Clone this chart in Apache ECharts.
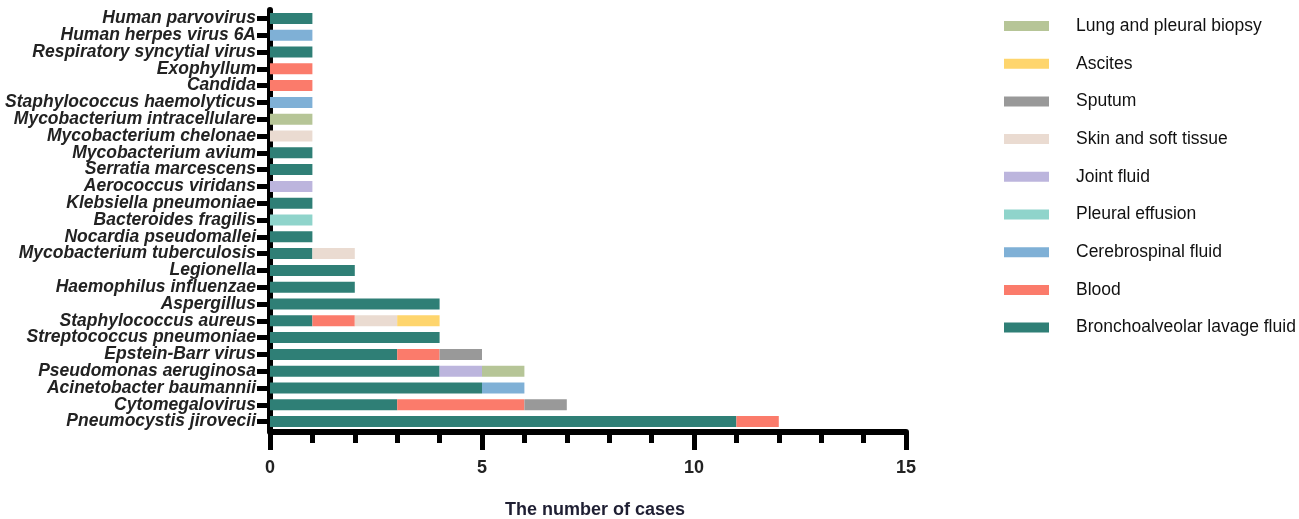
<!DOCTYPE html>
<html>
<head>
<meta charset="utf-8">
<script src="https://cdn.jsdelivr.net/npm/echarts@6/dist/echarts.min.js"></script>
<style>
  html, body { margin: 0; padding: 0; background: #fff; }
  #chart { width: 1299px; height: 519px; }
</style>
</head>
<body>
<div id="chart"></div>
<script>
// categories, bottom to top
const pathogens = [
  "Pneumocystis jirovecii", "Cytomegalovirus", "Acinetobacter baumannii",
  "Pseudomonas aeruginosa", "Epstein-Barr virus", "Streptococcus pneumoniae",
  "Staphylococcus aureus", "Aspergillus", "Haemophilus influenzae", "Legionella",
  "Mycobacterium tuberculosis", "Nocardia pseudomallei", "Bacteroides fragilis",
  "Klebsiella pneumoniae", "Aerococcus viridans", "Serratia marcescens",
  "Mycobacterium avium", "Mycobacterium chelonae", "Mycobacterium intracellulare",
  "Staphylococcus haemolyticus", "Candida", "Exophyllum",
  "Respiratory syncytial virus", "Human herpes virus 6A", "Human parvovirus"
];

const balf     = [11, 3, 5, 4, 3, 4, 1, 4, 2, 2, 1, 1, 0, 1, 0, 1, 1, 0, 0, 0, 0, 0, 1, 0, 1];
const blood    = [1, 3, 0, 0, 1, 0, 1, 0, 0, 0, 0, 0, 0, 0, 0, 0, 0, 0, 0, 0, 1, 1, 0, 0, 0];
const csf      = [0, 0, 1, 0, 0, 0, 0, 0, 0, 0, 0, 0, 0, 0, 0, 0, 0, 0, 0, 1, 0, 0, 0, 1, 0];
const pleural  = [0, 0, 0, 0, 0, 0, 0, 0, 0, 0, 0, 0, 1, 0, 0, 0, 0, 0, 0, 0, 0, 0, 0, 0, 0];
const joint    = [0, 0, 0, 1, 0, 0, 0, 0, 0, 0, 0, 0, 0, 0, 1, 0, 0, 0, 0, 0, 0, 0, 0, 0, 0];
const skin     = [0, 0, 0, 0, 0, 0, 1, 0, 0, 0, 1, 0, 0, 0, 0, 0, 0, 1, 0, 0, 0, 0, 0, 0, 0];
const sputum   = [0, 1, 0, 0, 1, 0, 0, 0, 0, 0, 0, 0, 0, 0, 0, 0, 0, 0, 0, 0, 0, 0, 0, 0, 0];
const ascites  = [0, 0, 0, 0, 0, 0, 1, 0, 0, 0, 0, 0, 0, 0, 0, 0, 0, 0, 0, 0, 0, 0, 0, 0, 0];
const lung     = [0, 0, 0, 1, 0, 0, 0, 0, 0, 0, 0, 0, 0, 0, 0, 0, 0, 0, 1, 0, 0, 0, 0, 0, 0];

const specimens = [
  { name: "Bronchoalveolar lavage fluid", data: balf, color: "#2f7f76" },
  { name: "Blood", data: blood, color: "#fb7b6b" },
  { name: "Cerebrospinal fluid", data: csf, color: "#7fb0d6" },
  { name: "Pleural effusion", data: pleural, color: "#8fd4cb" },
  { name: "Joint fluid", data: joint, color: "#bcb5dd" },
  { name: "Skin and soft tissue", data: skin, color: "#eadbd1" },
  { name: "Sputum", data: sputum, color: "#999999" },
  { name: "Ascites", data: ascites, color: "#fed56d" },
  { name: "Lung and pleural biopsy", data: lung, color: "#b6c597" },
];

const xTicks = [0, 5, 10, 15];

const chart = echarts.init(document.getElementById("chart"));

chart.setOption({
  animation: false,
  textStyle: { fontFamily: "Liberation Sans, Arial, sans-serif" },
  grid: { left: 270, right: 393, top: 10, bottom: 89, outerBoundsMode: "none", containLabel: false },
  legend: {
    orient: "vertical",
    left: 999,
    top: 12,
    icon: "rect",
    itemWidth: 45,
    itemHeight: 10,
    itemGap: 19.7,
    data: specimens.map((s) => s.name).reverse(),
    textStyle: {
      fontSize: 17.5,
      lineHeight: 16,
      color: "#111",
      padding: [0, 0, 0, 22],
    },
  },
  xAxis: {
    type: "value",
    min: xTicks[0],
    max: xTicks[xTicks.length - 1],
    interval: 5,
    offset: 2,
    name: "The number of cases",
    nameLocation: "middle",
    nameGap: 69,
    nameTextStyle: { fontSize: 18, fontWeight: "bold", color: "#1f1f33", padding: [0, 0, 0, 14] },
    axisLine: { show: true, lineStyle: { color: "#000", width: 6 } },
    axisTick: { show: true, length: 18, lineStyle: { color: "#000", width: 5 } },
    minorTick: { show: true, splitNumber: 5, length: 11, lineStyle: { color: "#000", width: 5 } },
    splitLine: { show: false },
    axisLabel: { fontSize: 18, fontWeight: "bold", color: "#222", margin: 27 },
  },
  yAxis: {
    type: "category",
    data: pathogens,
    axisLine: { show: true, lineStyle: { color: "#000", width: 6 } },
    axisTick: { show: true, alignWithLabel: true, interval: 0, length: 13, lineStyle: { color: "#000", width: 5 } },
    axisLabel: {
      interval: 0,
      fontSize: 17.5,
      fontWeight: "bold",
      fontStyle: "italic",
      color: "#222",
      margin: 14,
    },
  },
  series: specimens.map((s) => ({
    name: s.name,
    type: "bar",
    stack: "total",
    barWidth: 11,
    data: s.data,
    itemStyle: { color: s.color },
  })),
});
</script>
</body>
</html>
